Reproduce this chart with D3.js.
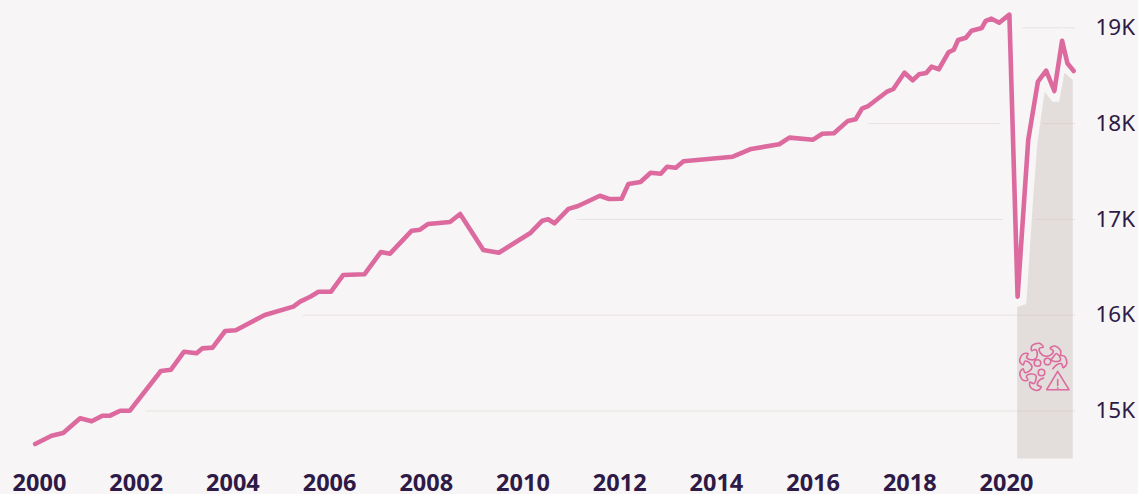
<!DOCTYPE html>
<html>
<head>
<meta charset="utf-8">
<script src="https://cdn.jsdelivr.net/npm/d3@7"></script>
<style>
  html, body { margin: 0; padding: 0; background: #f7f5f6; }
  svg { display: block; }
  text { font-family: "Noto Sans", "Open Sans", sans-serif; fill: #2e1a47; }
</style>
</head>
<body>
<div id="chart"></div>
<script>
// values
var dates = [1999.92, 2000.26, 2000.50, 2000.85, 2001.09, 2001.31, 2001.47, 2001.68, 2001.88,
  2002.52, 2002.73, 2003.00, 2003.26, 2003.38, 2003.59, 2003.85, 2004.07, 2004.67, 2005.26,
  2005.40, 2005.61, 2005.78, 2006.04, 2006.29, 2006.73, 2007.07, 2007.26, 2007.71, 2007.88,
  2008.05, 2008.50, 2008.71, 2009.19, 2009.51, 2010.17, 2010.41, 2010.53, 2010.66, 2010.95,
  2011.15, 2011.60, 2011.79, 2012.05, 2012.19, 2012.44, 2012.65, 2012.86, 2012.99, 2013.17,
  2013.33, 2014.35, 2014.73, 2015.31, 2015.52, 2016.01, 2016.20, 2016.44, 2016.73, 2016.89,
  2017.02, 2017.15, 2017.53, 2017.67, 2017.90, 2018.07, 2018.20, 2018.35, 2018.46, 2018.61,
  2018.81, 2018.92, 2019.01, 2019.17, 2019.29, 2019.50, 2019.58, 2019.70, 2019.86, 2020.07,
  2020.24, 2020.46, 2020.66, 2020.83, 2021.00, 2021.16, 2021.27, 2021.40];
var values = [14650, 14737, 14765, 14919, 14887, 14946, 14946, 14998, 14998,
  15412, 15426, 15614, 15597, 15649, 15656, 15830, 15837, 15997, 16084,
  16136, 16188, 16240, 16240, 16414, 16422, 16654, 16637, 16877, 16887,
  16947, 16968, 17051, 16675, 16647, 16856, 16981, 16996, 16954, 17105,
  17135, 17242, 17208, 17211, 17364, 17385, 17482, 17472, 17545, 17534,
  17601, 17649, 17730, 17779, 17848, 17827, 17889, 17894, 18023, 18040,
  18150, 18178, 18325, 18356, 18526, 18447, 18509, 18523, 18589, 18562,
  18739, 18766, 18867, 18891, 18965, 18993, 19066, 19090, 19048, 19132,
  16188, 17824, 18432, 18547, 18335, 18860, 18624, 18544];
// haut de la bande covid
var bandDates = [2020.23, 2020.42, 2020.56, 2020.65, 2020.80, 2020.96, 2021.10, 2021.21, 2021.38];
var bandValues = [16080, 16112, 17197, 17792, 18328, 18223, 18223, 18526, 18450];
var yearTicks = [2000, 2002, 2004, 2006, 2008, 2010, 2012, 2014, 2016, 2018, 2020];
var valueTicks = [15000, 16000, 17000, 18000, 19000];
var peakDate = 2020.07;    // dernier point avant la chute

var width = 1138, height = 494;
var bg = "#f7f5f6", pink = "#dc6a9e";

var points = dates.map((d, i) => ({date: d, value: values[i]}));
var band = bandDates.map((d, i) => ({date: d, value: bandValues[i]}));

var x = d3.scaleLinear().domain([2000, 2020]).range([39, 1006]);
var y = d3.scaleLinear().domain([14498, 19000]).range([458.6, 27.3]);

var svg = d3.select("#chart").append("svg")
  .attr("width", width)
  .attr("height", height);

var line = d3.line().x(d => x(d.date)).y(d => y(d.value));

//grille, sans libellés
svg.append("g")
  .attr("transform", "translate(1075,0)")
  .call(d3.axisLeft(y).tickValues(valueTicks).tickSize(1040).tickFormat(""))
  .call(g => g.select(".domain").remove())
  .selectAll("line")
    .attr("stroke", "#c9bba8")
    .attr("stroke-opacity", 0.3);

//cache la grille au dessus de la courbe (jusqu'au pic de 2020)
svg.append("path")
  .datum(points.filter(d => d.date <= peakDate))
  .attr("fill", bg)
  .attr("d", d3.area().x(d => x(d.date)).y0(0).y1(d => y(d.value)));

//halo autour de la courbe
svg.append("path")
  .datum(points)
  .attr("fill", "none")
  .attr("stroke", bg)
  .attr("stroke-width", 25)
  .attr("stroke-linejoin", "round")
  .attr("d", line);

//bande covid, transparente pour laisser voir la grille
svg.append("path")
  .datum(band)
  .attr("fill", "rgb(200,188,184)")
  .attr("fill-opacity", 0.42)
  .attr("d", d3.area().x(d => x(d.date)).y0(y.range()[0]).y1(d => y(d.value)));

svg.append("path")
  .datum(points)
  .attr("fill", "none")
  .attr("stroke", pink)
  .attr("stroke-width", 4.6)
  .attr("stroke-linejoin", "round")
  .attr("stroke-linecap", "round")
  .attr("d", line);

//axes
svg.append("g")
  .attr("transform", "translate(0,483)")
  .call(d3.axisBottom(x).tickValues(yearTicks).tickSize(0).tickPadding(0).tickFormat(d3.format("d")))
  .call(g => g.select(".domain").remove())
  .selectAll("text")
    .attr("dy", "0.35em")
    .attr("font-family", null)
    .attr("font-size", 23.5)
    .attr("font-weight", 700);

svg.append("g")
  .attr("transform", "translate(1095.5,0)")
  .call(d3.axisRight(y).tickValues(valueTicks).tickSize(0).tickPadding(0).tickFormat(d => (d / 1000) + "K"))
  .call(g => g.select(".domain").remove())
  .selectAll("text")
    .attr("font-size", 22.5);

//icone virus + alerte
var icon = svg.append("g")
  .attr("transform", "translate(1043,367)")
  .attr("fill", "none")
  .attr("stroke", pink)
  .attr("stroke-width", 1.6)
  .attr("stroke-linejoin", "round")
  .attr("stroke-linecap", "round");

var lobes = [-157, -113, -66, -17, 39, 74];
var blob = [];
lobes.forEach(a => {
  [[11, -26], [14, -7], [19, -6], [20, -18], [24, -10], [24, 8], [20, 18], [19, 6], [14, 7]].forEach(p => {
    blob.push([(a + p[1]) * Math.PI / 180, p[0]]);
  });
});
blob.push([100 * Math.PI / 180, 10]);

icon.append("path")
  .attr("d", d3.lineRadial().curve(d3.curveCatmullRom)(blob));

[[-5.5, -4], [4.5, -5.5], [-1.5, 5.5]].forEach(c => {
  icon.append("circle").attr("cx", c[0]).attr("cy", c[1]).attr("r", 3.3);
});

icon.append("path").attr("d", "M14.7 4.3L3.7 22.7H26Z");
icon.append("path").attr("d", "M14.7 12.5V18.5M14.7 20.8V21.2");
</script>
</body>
</html>
